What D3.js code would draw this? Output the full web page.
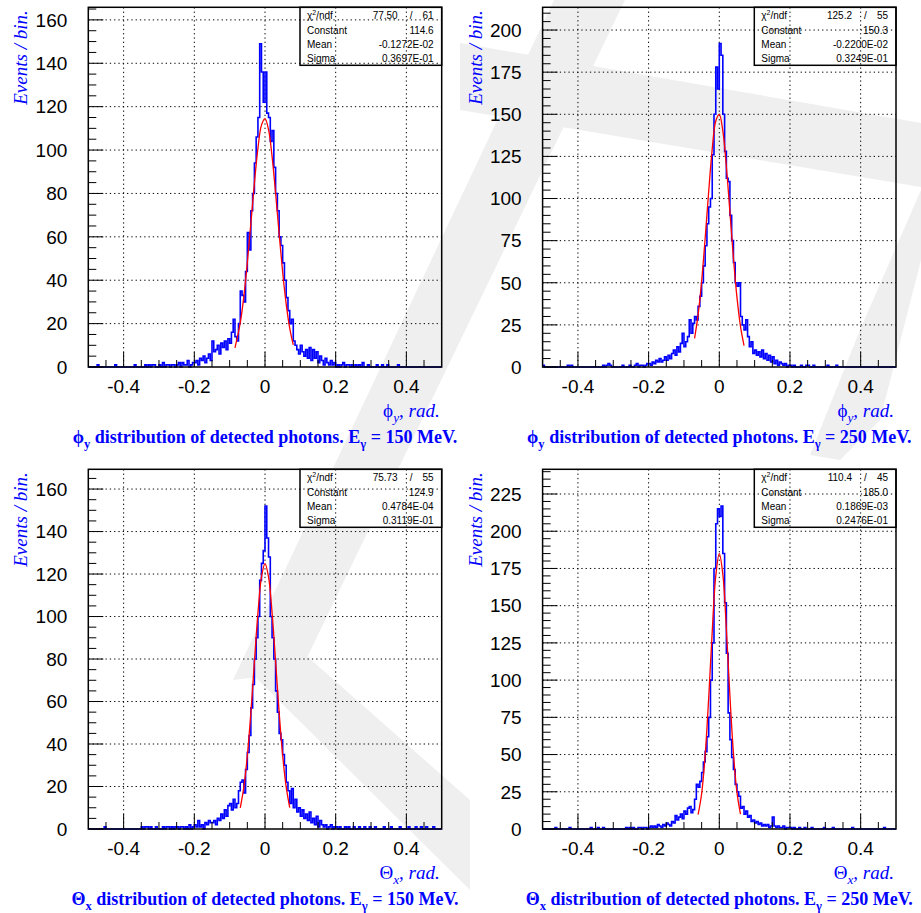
<!DOCTYPE html>
<html>
<head>
<meta charset="utf-8">
<script src="https://cdn.jsdelivr.net/npm/d3@7"></script>
<style>
  body { margin: 0; background: #fff; }
  svg { display: block; }
</style>
</head>
<body>
<div id="chart"></div>
<script>
// histograms: 200 bins of width 0.005 over [-0.5, 0.5]
const binLo = -0.5, binW = 0.005;

const phiY150 = [
  0,0,0,0,0,1,0,0,0,0, 0,0,0,0,0,1,0,0,0,0,
  0,0,0,0,0,0,1,0,0,0, 0,0,1,0,1,0,1,1,0,0,
  1,0,2,0,1,1,0,1,1,0, 1,2,0,2,1,1,3,0,1,2,
  2,3,1,4,3,5,2,4,6,3, 12,7,8,10,6,11,9,12,8,13,
  11,16,22,14,12,20,35,33,30,44, 62,54,72,80,94,106,115,149,136,122,
  136,117,115,104,109,92,80,72,60,56, 48,40,32,26,20,22,12,10,8,6,
  10,7,5,8,4,9,3,8,4,7, 2,5,3,1,4,2,1,3,1,2,
  0,1,0,1,2,0,1,1,0,1, 0,1,0,1,0,2,0,0,1,0,
  0,0,0,1,0,0,1,0,0,1, 0,0,0,0,0,1,0,0,0,0,
  0,0,0,0,0,0,0,0,0,0, 0,0,0,0,0,0,0,0,0,0
];
const phiY250 = [
  1,0,0,0,0,0,0,0,0,0, 0,0,0,0,1,0,1,0,0,0,
  0,0,0,0,0,0,0,0,0,0, 0,0,0,0,1,0,1,2,1,0,
  0,0,0,0,0,1,0,0,0,1, 0,0,1,2,0,1,1,0,1,2,
  2,1,3,2,4,3,5,3,4,6, 4,7,5,8,10,7,12,9,14,20,
  12,15,18,28,20,26,30,28,36,42, 50,60,72,85,95,100,126,150,178,165,
  192,185,150,128,112,110,90,75,62,50, 48,50,30,25,22,28,18,12,15,8,
  10,7,9,6,10,5,8,4,7,3, 6,2,4,1,3,2,1,2,0,1,
  1,0,1,0,0,0,1,0,0,1, 1,0,0,1,0,0,0,0,0,0,
  0,1,0,0,0,0,1,0,0,0, 0,0,0,0,0,0,0,0,0,0,
  0,0,0,0,0,0,0,0,0,0, 0,0,0,0,0,0,0,0,0,0
];
const thetaX150 = [
  0,0,0,0,0,0,0,0,0,1, 0,0,0,0,0,0,0,0,0,0,
  0,0,0,0,0,0,0,0,0,0, 1,0,1,1,0,1,0,0,1,0,
  0,0,1,0,1,1,0,1,0,1, 1,0,1,1,0,1,0,2,0,1,
  2,1,4,1,2,0,3,2,4,3, 3,4,2,5,4,7,5,9,6,11,
  12,9,14,10,12,18,22,23,17,28, 36,44,57,68,80,90,100,117,125,131,
  152,137,128,100,90,80,65,55,45,42, 35,30,22,18,12,19,10,14,8,10,
  6,9,5,7,4,8,3,5,2,6, 1,4,2,1,2,0,1,2,0,1,
  1,0,1,0,0,1,0,1,0,0, 1,0,0,1,0,0,1,0,0,1,
  0,0,1,0,0,0,0,1,0,0, 0,1,0,0,0,0,1,0,0,0,
  0,1,0,0,0,1,0,0,1,0, 0,1,0,0,0,1,0,0,0,0
];
const thetaX250 = [
  0,0,0,0,0,0,0,1,0,0, 0,0,0,0,0,1,0,0,0,0,
  0,0,0,0,0,0,0,1,0,0, 0,1,0,0,1,0,0,0,0,0,
  0,0,0,0,0,0,0,1,0,1, 0,1,0,0,1,1,0,1,1,0,
  1,2,1,2,1,3,2,1,3,2, 4,3,2,5,4,9,6,8,10,7,
  12,10,14,15,11,13,20,30,28,32, 38,45,52,62,75,100,125,175,205,215,
  210,217,185,152,118,78,60,48,40,30, 25,22,14,15,10,12,8,9,5,6,
  4,5,3,4,2,3,2,3,1,2, 8,2,1,2,1,1,2,0,1,1,
  1,0,1,0,0,1,0,0,1,0, 0,0,1,0,0,0,0,0,0,1,
  0,0,0,0,1,0,0,0,0,0, 0,0,0,0,0,1,0,0,0,0,
  0,0,0,0,0,0,0,0,0,0, 0,0,0,1,0,0,0,0,0,0
];

// red gaussian fit curves
const fitXPhi150 = [-0.085,-0.07,-0.06,-0.05,-0.04,-0.03,-0.02,-0.01,0,0.01,0.02,0.03,0.04,0.05,0.06,0.07,0.08];
const fitYPhi150 = [8.8,20.4,32.4,48.1,66.2,84.7,100.8,111.5,114.5,109.4,97.1,80.1,61.4,43.7,29.0,17.8,10.2];
const fitXPhi250 = [-0.07,-0.06,-0.05,-0.04,-0.03,-0.02,-0.01,0,0.01,0.02,0.03,0.04,0.05,0.06,0.07];
const fitYPhi250 = [17.0,30.9,50.9,76.4,104.2,129.4,146.0,150.0,140.1,119.0,92.0,64.6,41.3,24.1,12.7];
const fitXTheta150 = [-0.07,-0.06,-0.05,-0.04,-0.03,-0.02,-0.01,0,0.01,0.02,0.03,0.04,0.05,0.06,0.07];
const fitYTheta150 = [10.0,19.6,34.5,54.8,78.5,101.6,118.6,124.9,118.7,101.8,78.8,55.0,34.6,19.7,10.1];
const fitXTheta250 = [-0.06,-0.05,-0.04,-0.03,-0.02,-0.01,0,0.01,0.02,0.03,0.04,0.05,0.06];
const fitYTheta250 = [9.6,23.7,49.6,88.0,132.7,170.0,185.0,171.0,134.3,89.6,50.8,24.4,10.0];

// stats box: chi2, ndf, constant, mean, sigma
const statLabels = ["Constant", "Mean", "Sigma"];
const statsPhi150 = ["77.50", "61", "114.6", "-0.1272E-02", "0.3697E-01"];
const statsPhi250 = ["125.2", "55", "150.3", "-0.2200E-02", "0.3249E-01"];
const statsTheta150 = ["75.73", "55", "124.9", "0.4784E-04", "0.3119E-01"];
const statsTheta250 = ["110.4", "45", "185.0", "0.1869E-03", "0.2476E-01"];

const xTickLabels = [-0.4, -0.2, 0, 0.2, 0.4];
const xTickText = ["-0.4", "-0.2", "0", "0.2", "0.4"];

const panels = [
  {counts: phiY150, fitX: fitXPhi150, fitY: fitYPhi150, stats: statsPhi150,
   left: 88.3, right: 441.7, top: 7.3, bottom: 367, yMax: 165.8, yMajor: 20,
   sym: "\u03D5", sub: "y", energy: "150"},
  {counts: phiY250, fitX: fitXPhi250, fitY: fitYPhi250, stats: statsPhi250,
   left: 542.6, right: 896, top: 7.3, bottom: 367, yMax: 213.5, yMajor: 25,
   sym: "\u03D5", sub: "y", energy: "250"},
  {counts: thetaX150, fitX: fitXTheta150, fitY: fitYTheta150, stats: statsTheta150,
   left: 88.3, right: 441.7, top: 469.3, bottom: 829, yMax: 169.3, yMajor: 20,
   sym: "\u0398", sub: "x", energy: "150"},
  {counts: thetaX250, fitX: fitXTheta250, fitY: fitYTheta250, stats: statsTheta250,
   left: 542.6, right: 896, top: 469.3, bottom: 829, yMax: 241.6, yMajor: 25,
   sym: "\u0398", sub: "x", energy: "250"}
];

const blue = "#0000ff";
const sans = "'Liberation Sans', Arial, Helvetica, sans-serif";
const serif = "'Liberation Serif', 'Times New Roman', serif";

const svg = d3.select("#chart").append("svg")
    .attr("width", 921)
    .attr("height", 913);

svg.append("rect").attr("width", 921).attr("height", 913).attr("fill", "#fff");

// faint background watermark
const watermark = [
  [[554,0],[625,0],[300,672],[233,680]],
  [[240,662],[300,650],[470,800],[470,890]],
  [[460,43],[921,123],[921,187],[460,110]],
  [[921,190],[921,260],[880,420],[840,460],[810,455],[860,330]]
];
svg.selectAll(".wm")
    .data(watermark)
    .enter().append("polygon")
    .attr("class", "wm")
    .attr("points", d => d.map(p => p.join(",")).join(" "))
    .attr("fill", "#efefef");

// append text made of plain / sub / sup pieces
function richText(sel, parts, size) {
  let shift = 0;
  parts.forEach(function(pt) {
    const want = pt.sub ? size * 0.3 : (pt.sup ? -size * 0.4 : 0);
    const ts = sel.append("tspan").text(pt.t).attr("dy", want - shift);
    if (pt.sub || pt.sup) ts.attr("font-size", size * 0.7);
    if (pt.style) ts.attr("font-style", pt.style);
    shift = want;
  });
}

function drawPanel(p) {
  const x = d3.scaleLinear().domain([-0.5, 0.5]).range([p.left, p.right]);
  const y = d3.scaleLinear().domain([0, p.yMax]).range([p.bottom, p.top]);
  const g = svg.append("g");

  // stats box
  const bw = 141.7, bh = 58;
  const bx = p.right - bw, by = p.top;
  g.append("rect")
      .attr("x", bx).attr("y", by).attr("width", bw).attr("height", bh)
      .attr("fill", "#fff").attr("stroke", "#000").attr("stroke-width", 1.5);

  const st = g.append("g").attr("font-family", sans).attr("font-size", 10).attr("fill", "#000");
  const chiLabel = st.append("text").attr("x", bx + 7).attr("y", by + 12);
  richText(chiLabel, [{t: "\u03C7"}, {t: "2", sup: true}, {t: "/ndf"}], 10);
  st.append("text").attr("x", p.right - 44).attr("y", by + 12)
      .attr("text-anchor", "end").text(p.stats[0]);
  st.append("text").attr("x", p.right - 30.5).attr("y", by + 12)
      .attr("text-anchor", "middle").text("/");
  st.append("text").attr("x", p.right - 8).attr("y", by + 12)
      .attr("text-anchor", "end").text(p.stats[1]);
  statLabels.forEach(function(lab, i) {
    st.append("text").attr("x", bx + 7).attr("y", by + 26.2 + 14.2 * i).text(lab);
    st.append("text").attr("x", p.right - 8).attr("y", by + 26.2 + 14.2 * i)
        .attr("text-anchor", "end").text(p.stats[i + 2]);
  });

  // dotted grid
  const yMajors = d3.range(p.yMajor, p.yMax, p.yMajor);
  g.selectAll(".gx").data(xTickLabels).enter().append("line")
      .attr("x1", d => x(d)).attr("x2", d => x(d))
      .attr("y1", p.top).attr("y2", p.bottom)
      .attr("stroke", "#000").attr("stroke-width", 1).attr("stroke-dasharray", "1.3,3");
  g.selectAll(".gy").data(yMajors).enter().append("line")
      .attr("x1", p.left).attr("x2", p.right)
      .attr("y1", d => y(d)).attr("y2", d => y(d))
      .attr("stroke", "#000").attr("stroke-width", 1).attr("stroke-dasharray", "1.3,3");

  // histogram as steps
  const pts = p.counts.map((c, i) => [binLo + i * binW, c]);
  pts.push([binLo + p.counts.length * binW, p.counts[p.counts.length - 1]]);
  g.append("path")
      .datum(pts)
      .attr("fill", "none")
      .attr("stroke", blue)
      .attr("stroke-width", 1.6)
      .attr("d", d3.line().x(d => x(d[0])).y(d => y(d[1])).curve(d3.curveStepAfter));

  // fit curve
  g.append("path")
      .datum(p.fitX.map((v, i) => [v, p.fitY[i]]))
      .attr("fill", "none")
      .attr("stroke", "#ff0000")
      .attr("stroke-width", 1.3)
      .attr("d", d3.line().x(d => x(d[0])).y(d => y(d[1])).curve(d3.curveCatmullRom));

  // frame
  g.append("rect")
      .attr("x", p.left).attr("y", p.top)
      .attr("width", p.right - p.left).attr("height", p.bottom - p.top)
      .attr("fill", "none").attr("stroke", "#000").attr("stroke-width", 1.5);

  // y ticks: major every yMajor, minor every 5
  const yTicks = d3.range(0, p.yMax, 5);
  g.selectAll(".ty").data(yTicks).enter().append("line")
      .attr("x1", p.left)
      .attr("x2", d => p.left + (d % p.yMajor === 0 ? 15 : 8))
      .attr("y1", d => y(d)).attr("y2", d => y(d))
      .attr("stroke", "#000").attr("stroke-width", 1);

  // x ticks every 0.05, long ones at labels
  const xKs = d3.range(-9, 10);
  g.selectAll(".tx").data(xKs).enter().append("line")
      .attr("x1", k => x(k * 0.05)).attr("x2", k => x(k * 0.05))
      .attr("y1", p.bottom)
      .attr("y2", k => p.bottom - (k % 4 === 0 ? 15 : 7))
      .attr("stroke", "#000").attr("stroke-width", 1);

  // tick labels
  const lab = g.append("g").attr("font-family", sans).attr("font-size", 19).attr("fill", "#000");
  lab.selectAll(".ly").data(d3.range(0, p.yMax, p.yMajor)).enter().append("text")
      .attr("x", p.left - 21).attr("y", d => y(d) + 6.8)
      .attr("text-anchor", "end")
      .text(d => d);
  lab.selectAll(".lx").data(xTickLabels).enter().append("text")
      .attr("x", d => x(d)).attr("y", p.bottom + 25.5)
      .attr("text-anchor", "middle")
      .text((d, i) => xTickText[i]);

  // axis titles
  g.append("text")
      .attr("transform", "translate(" + (p.left - 61) + "," + (p.top + 3) + ") rotate(-90)")
      .attr("text-anchor", "end")
      .attr("font-family", serif).attr("font-style", "italic").attr("font-size", 19)
      .attr("fill", blue)
      .text("Events / bin.");

  const xt = g.append("text")
      .attr("x", p.right - 2).attr("y", p.bottom + 49.5)
      .attr("text-anchor", "end")
      .attr("font-family", serif).attr("font-style", "italic").attr("font-size", 19)
      .attr("fill", blue);
  richText(xt, [{t: p.sym, style: "normal"}, {t: p.sub, sub: true}, {t: ", rad."}], 19);

  // caption
  const cap = g.append("text")
      .attr("x", (p.left + p.right) / 2).attr("y", p.bottom + 75.5)
      .attr("text-anchor", "middle")
      .attr("font-family", serif).attr("font-weight", "bold").attr("font-size", 18)
      .attr("fill", blue);
  richText(cap, [
    {t: p.sym}, {t: p.sub, sub: true},
    {t: " distribution of detected photons. E"}, {t: "\u03B3", sub: true},
    {t: " = " + p.energy + " MeV."}
  ], 18);
}

panels.forEach(drawPanel);
</script>
</body>
</html>
